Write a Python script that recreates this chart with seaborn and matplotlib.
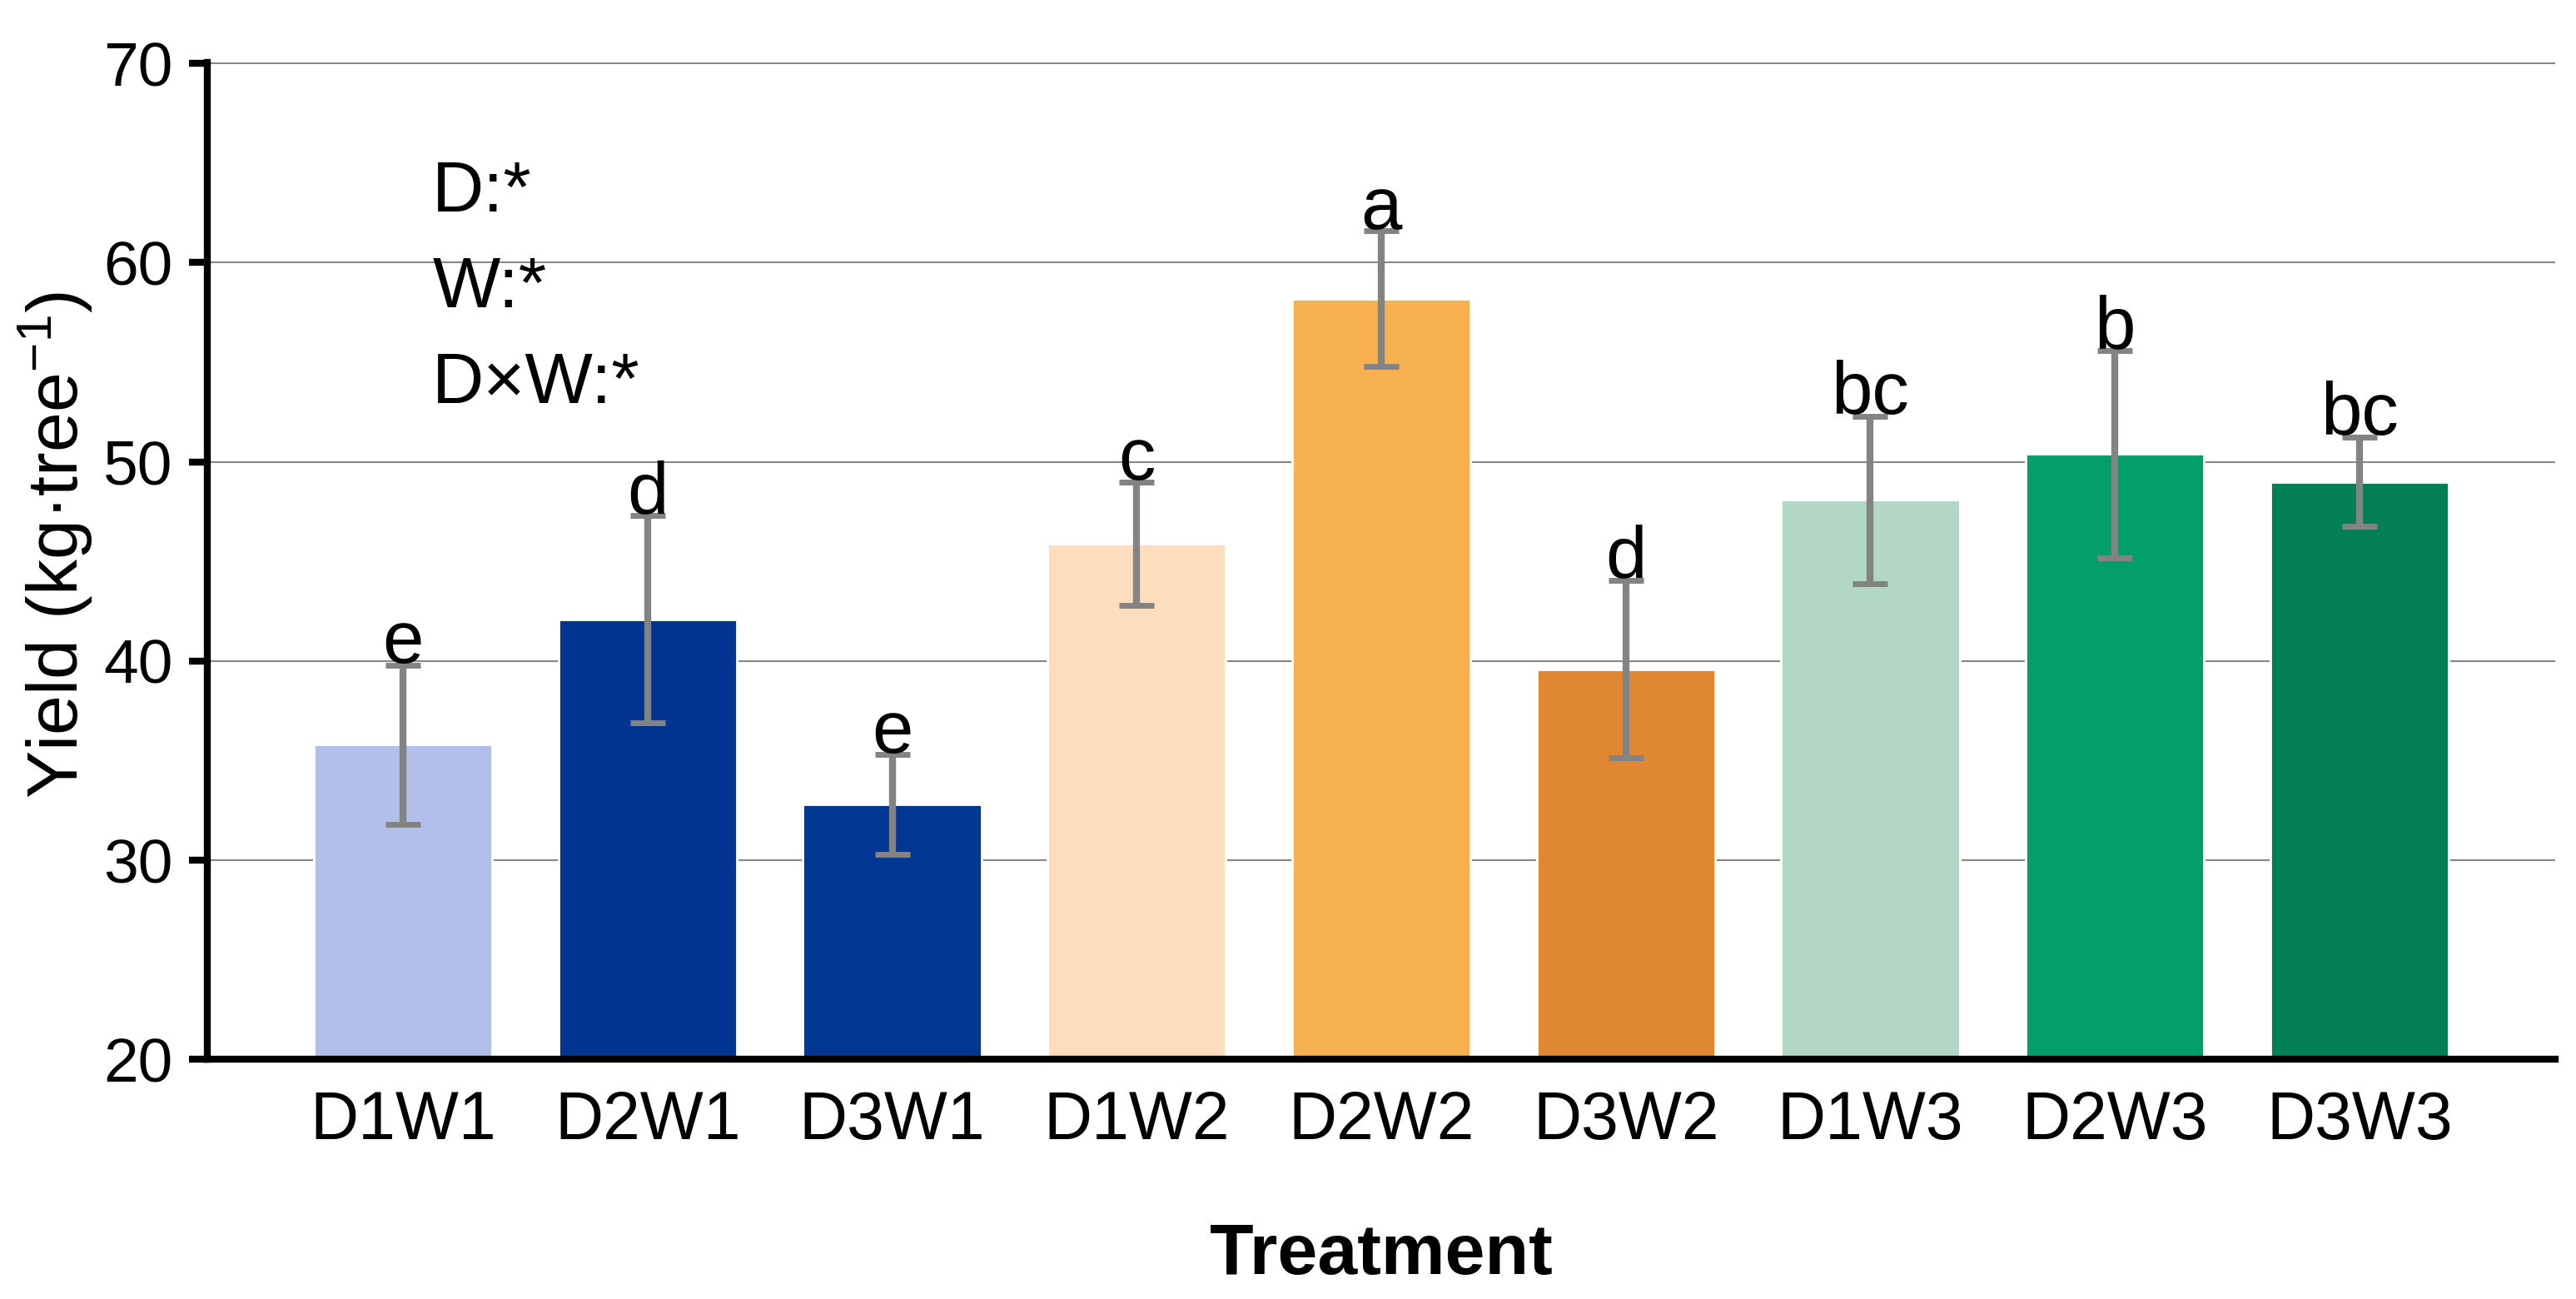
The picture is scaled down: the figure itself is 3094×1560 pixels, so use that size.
import numpy as np
import matplotlib
matplotlib.use('Agg')
import matplotlib.pyplot as plt
import seaborn as sns
import pandas as pd

# data
treatments = ['D1W1', 'D2W1', 'D3W1', 'D1W2', 'D2W2', 'D3W2', 'D1W3', 'D2W3', 'D3W3']
yield_mean = [35.8, 42.1, 32.8, 45.9, 58.2, 39.6, 48.1, 50.4, 49.0]
yield_err = [4.0, 5.2, 2.5, 3.1, 3.4, 4.45, 4.2, 5.2, 2.25]
letters = ['e', 'd', 'e', 'c', 'a', 'd', 'bc', 'b', 'bc']
colors = ['#B1BFEA', '#013591', '#013692', '#FDDDBD', '#F7B150',
          '#E08731', '#B2D7C5', '#029F6D', '#027F54']
anova_lines = ['D:*', 'W:*', 'D×W:*']

df = pd.DataFrame({'Treatment': treatments, 'Yield': yield_mean, 'err': yield_err})

sns.set_theme(style='white')
plt.rcParams['font.family'] = ['Liberation Sans', 'DejaVu Sans']
plt.rcParams['mathtext.fontset'] = 'custom'
plt.rcParams['mathtext.rm'] = 'Liberation Sans'
plt.rcParams['mathtext.it'] = 'Liberation Sans:italic'
plt.rcParams['mathtext.bf'] = 'Liberation Sans:bold'
for key in ['text.color', 'axes.labelcolor', 'xtick.color', 'ytick.color']:
    plt.rcParams[key] = 'black'

fig = plt.figure(figsize=(15.47, 7.8), dpi=200)
ax = fig.add_axes([0.0805, 0.1843, 0.9114, 0.7676])

sns.barplot(data=df, x='Treatment', y='Yield', hue='Treatment', palette=colors,
            width=0.73, legend=False, saturation=1, ax=ax, zorder=2)

ax.errorbar(np.arange(len(treatments)), df['Yield'], yerr=df['err'], fmt='none',
            ecolor='#838383', elinewidth=3.0, capsize=7.4, capthick=2.5, zorder=3)

# significance letters
for i, (m, e, lab) in enumerate(zip(yield_mean, yield_err, letters)):
    ax.text(i, m + e + 0.1, lab, ha='center', va='baseline', fontsize=32, zorder=4)

# anova text
for k, line in enumerate(anova_lines):
    ax.text(0.12, 62.57 - 4.8 * k, line, ha='left', va='baseline', fontsize=31)

ax.set_ylim(20, 70.05)
ax.set_xlim(-0.8, 8.8)
ax.set_yticks([20, 30, 40, 50, 60, 70])
ax.yaxis.grid(True, color='#868686', linewidth=0.75, zorder=0)
ax.set_axisbelow(True)

for s in ['top', 'right']:
    ax.spines[s].set_visible(False)
for s in ['left', 'bottom']:
    ax.spines[s].set_linewidth(3)
    ax.spines[s].set_color('black')

ax.tick_params(axis='y', which='major', length=8, width=3, color='black',
               labelsize=27, pad=7, left=True)
ax.tick_params(axis='x', length=0, labelsize=29, pad=13)

ax.set_xlabel('Treatment', fontsize=31, fontweight='bold', labelpad=30)
ax.set_ylabel('Yield (kg·tree$^{-1}$)', fontsize=31)
ax.yaxis.set_label_coords(-0.048, 0.516)

fig.savefig('out.png', dpi=200)
